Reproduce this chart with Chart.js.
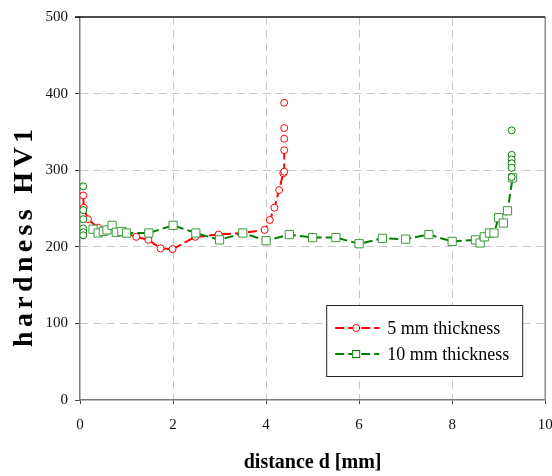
<!DOCTYPE html>
<html>
<head>
<meta charset="utf-8">
<script src="https://cdn.jsdelivr.net/npm/chart.js@4.4.1/dist/chart.umd.min.js"></script>
<style>
  html, body { margin: 0; padding: 0; background: #fff; }
  canvas { display: block; }
</style>
</head>
<body>
<canvas id="hardness-chart" width="552" height="476"></canvas>
<script>
// 5 mm plate: traverse along the weld (line + markers)
const thin5X = [0.07, 0.08, 0.17, 0.39, 0.9, 1.21, 1.47, 1.73, 1.99, 2.48, 2.98, 3.5, 3.97, 4.08, 4.18, 4.28, 4.37, 4.39, 4.39];
const thin5Y = [267, 251, 236, 225, 219, 213, 209, 198, 197, 213, 216, 218, 222, 235, 251, 274, 296, 298, 326];
// 5 mm plate: extra indents at the far edge (markers only)
const thin5EdgeX = [4.39, 4.39, 4.39];
const thin5EdgeY = [341, 355, 388];

// 10 mm plate: traverse along the weld (line + markers)
const thick10X = [0.28, 0.39, 0.5, 0.58, 0.69, 0.78, 0.9, 1.0, 1.48, 2.0, 2.49, 3.0, 3.5, 4.0, 4.5, 5.0, 5.5, 6.0, 6.5, 7.0, 7.5, 8.0, 8.5, 8.6, 8.69, 8.8, 8.9, 9.0, 9.1, 9.19, 9.3];
const thick10Y = [223, 218, 220, 222, 228, 219, 220, 218, 218, 228, 218, 209, 218, 208, 216, 212, 212, 204, 211, 210, 216, 207, 209, 205, 213, 218, 218, 238, 231, 247, 290];
// 10 mm plate: extra indents near both edges (markers only)
const thick10EdgeX = [0.07, 0.07, 0.07, 0.07, 0.07, 0.07, 9.28, 9.28, 9.28, 9.28, 9.28, 9.28];
const thick10EdgeY = [279, 248, 236, 224, 219, 215, 352, 320, 314, 309, 303, 291];

const xTicks = [0, 2, 4, 6, 8, 10];
const yTicks = [0, 100, 200, 300, 400, 500];

const serif = "'Liberation Serif', 'Times New Roman', serif";
const RED = '#ff0000';
const GREEN = '#008000';

const toPoints = (xs, ys) => xs.map((x, i) => ({ x: x, y: ys[i] }));

// Frame: black top line, grey right edge
const framePlugin = {
    id: 'frame',
    beforeDatasetsDraw(chart) {
        const { ctx, chartArea: a } = chart;
        ctx.save();
        ctx.strokeStyle = '#8c8c8c';
        ctx.lineWidth = 1.5;
        ctx.beginPath();
        ctx.moveTo(a.right, a.top);
        ctx.lineTo(a.right, a.bottom);
        ctx.stroke();
        ctx.strokeStyle = '#111';
        ctx.beginPath();
        ctx.moveTo(a.left - 5, a.top);
        ctx.lineTo(a.right, a.top);
        ctx.stroke();
        ctx.restore();
    }
};

// Rotated y title, letters spread over a fixed length
const yTitlePlugin = {
    id: 'yTitle',
    afterDraw(chart, args, opts) {
        const ctx = chart.ctx;
        ctx.save();
        ctx.translate(opts.baselineX, opts.y);
        ctx.rotate(-Math.PI / 2);
        ctx.font = 'bold ' + opts.size + 'px ' + serif;
        ctx.fillStyle = '#000';
        ctx.textBaseline = 'alphabetic';
        const chars = opts.text.split('');
        const widths = chars.map(c => ctx.measureText(c).width);
        const sum = widths.reduce((s, w) => s + w, 0);
        const spacing = Math.max(0, (opts.length - sum) / (chars.length - 1));
        let pos = -opts.length / 2;
        chars.forEach((c, i) => {
            ctx.fillText(c, pos, 0);
            pos += widths[i] + spacing;
        });
        ctx.restore();
    }
};

// Boxed legend inside the plot
const boxLegendPlugin = {
    id: 'boxLegend',
    afterDraw(chart, args, opts) {
        const ctx = chart.ctx;
        const a = chart.chartArea;
        const left = a.right - opts.right - opts.width;
        const top = a.bottom - opts.bottom - opts.height;
        ctx.save();
        ctx.fillStyle = '#fff';
        ctx.fillRect(left, top, opts.width, opts.height);
        ctx.strokeStyle = '#222';
        ctx.lineWidth = 1;
        ctx.strokeRect(left + 0.5, top + 0.5, opts.width, opts.height);
        ctx.font = '18px ' + serif;
        ctx.textBaseline = 'middle';
        opts.items.forEach((idx, row) => {
            const ds = chart.data.datasets[idx];
            const y = top + 23 + row * 26;
            const x0 = left + 9;
            ctx.strokeStyle = ds.borderColor;
            ctx.lineWidth = 2;
            ctx.setLineDash([9, 4]);
            ctx.beginPath();
            ctx.moveTo(x0, y);
            ctx.lineTo(x0 + 44, y);
            ctx.stroke();
            ctx.setLineDash([]);
            ctx.fillStyle = '#fff';
            ctx.lineWidth = 1;
            if (ds.pointStyle === 'rect') {
                ctx.fillRect(x0 + 17, y - 4, 8, 8);
                ctx.strokeRect(x0 + 17.5, y - 3.5, 7, 7);
            } else {
                ctx.beginPath();
                ctx.arc(x0 + 21, y, 3.5, 0, Math.PI * 2);
                ctx.fill();
                ctx.stroke();
            }
            ctx.fillStyle = '#000';
            ctx.fillText(ds.label, left + 61, y + 1);
        });
        ctx.restore();
    }
};

const gridColor = (edge) => (c) => (c.tick && (c.tick.value === 0 || c.tick.value === edge)) ? 'rgba(0,0,0,0)' : '#c8c8c8';

new Chart(document.getElementById('hardness-chart'), {
    type: 'scatter',
    data: {
        datasets: [
            {
                label: '5 mm thickness',
                data: toPoints(thin5X, thin5Y),
                showLine: true,
                borderColor: RED,
                backgroundColor: '#fff',
                borderWidth: 2,
                borderDash: [9, 4],
                pointStyle: 'circle',
                pointRadius: 3.5,
                pointBorderWidth: 1,
                pointBorderColor: RED,
                pointBackgroundColor: '#fff',
                order: 4
            },
            {
                label: '10 mm thickness',
                data: toPoints(thick10X, thick10Y),
                showLine: true,
                borderColor: GREEN,
                backgroundColor: '#fff',
                borderWidth: 2,
                borderDash: [9, 4],
                pointStyle: 'rect',
                pointRadius: 5.8,
                pointBorderWidth: 1,
                pointBorderColor: '#3a9a3a',
                pointBackgroundColor: '#fff',
                order: 2
            },
            {
                label: '5 mm edge',
                data: toPoints(thin5EdgeX, thin5EdgeY),
                showLine: false,
                pointStyle: 'circle',
                pointRadius: 3.5,
                pointBorderWidth: 1,
                pointBorderColor: RED,
                pointBackgroundColor: '#fff',
                order: 3
            },
            {
                label: '10 mm edge',
                data: toPoints(thick10EdgeX, thick10EdgeY),
                showLine: false,
                pointStyle: 'circle',
                pointRadius: 3.5,
                pointBorderWidth: 1,
                pointBorderColor: GREEN,
                pointBackgroundColor: '#fff',
                order: 1
            }
        ]
    },
    options: {
        responsive: false,
        animation: false,
        layout: {
            padding: { top: 17, right: 5, left: 0, bottom: 0 }
        },
        plugins: {
            legend: { display: false },
            tooltip: { enabled: false },
            yTitle: { text: 'hardness HV1', baselineX: 32, y: 238, size: 28, length: 218 },
            boxLegend: { items: [0, 1], width: 196, height: 71, right: 23, bottom: 24 }
        },
        scales: {
            x: {
                type: 'linear',
                min: 0,
                max: 10,
                afterBuildTicks: (scale) => { scale.ticks = xTicks.map(v => ({ value: v })); },
                afterFit: (scale) => {
                    scale.height = 76;
                    scale.paddingLeft = 0;
                    scale.paddingRight = 0;
                },
                grid: {
                    color: gridColor(10),
                    lineWidth: 1,
                    tickLength: 4,
                    tickColor: '#444',
                    tickBorderDash: []
                },
                border: { color: '#7a7a7a', width: 1.5, dash: [8, 5] },
                ticks: {
                    font: { family: serif, size: 15 },
                    color: '#111',
                    padding: 12,
                    maxRotation: 0
                },
                title: {
                    display: true,
                    text: 'distance d [mm]',
                    font: { family: serif, size: 20, weight: 'bold' },
                    color: '#000',
                    padding: { top: 0, bottom: 1 }
                }
            },
            y: {
                type: 'linear',
                min: 0,
                max: 500,
                afterBuildTicks: (scale) => { scale.ticks = yTicks.map(v => ({ value: v })); },
                afterFit: (scale) => { scale.width = 80; },
                grid: {
                    color: gridColor(500),
                    lineWidth: 1,
                    tickLength: 5,
                    tickColor: '#444',
                    tickBorderDash: []
                },
                border: { color: '#7a7a7a', width: 1.5, dash: [8, 5] },
                ticks: {
                    font: { family: serif, size: 15 },
                    color: '#111',
                    padding: 7
                }
            }
        }
    },
    plugins: [framePlugin, yTitlePlugin, boxLegendPlugin]
});
</script>
</body>
</html>
